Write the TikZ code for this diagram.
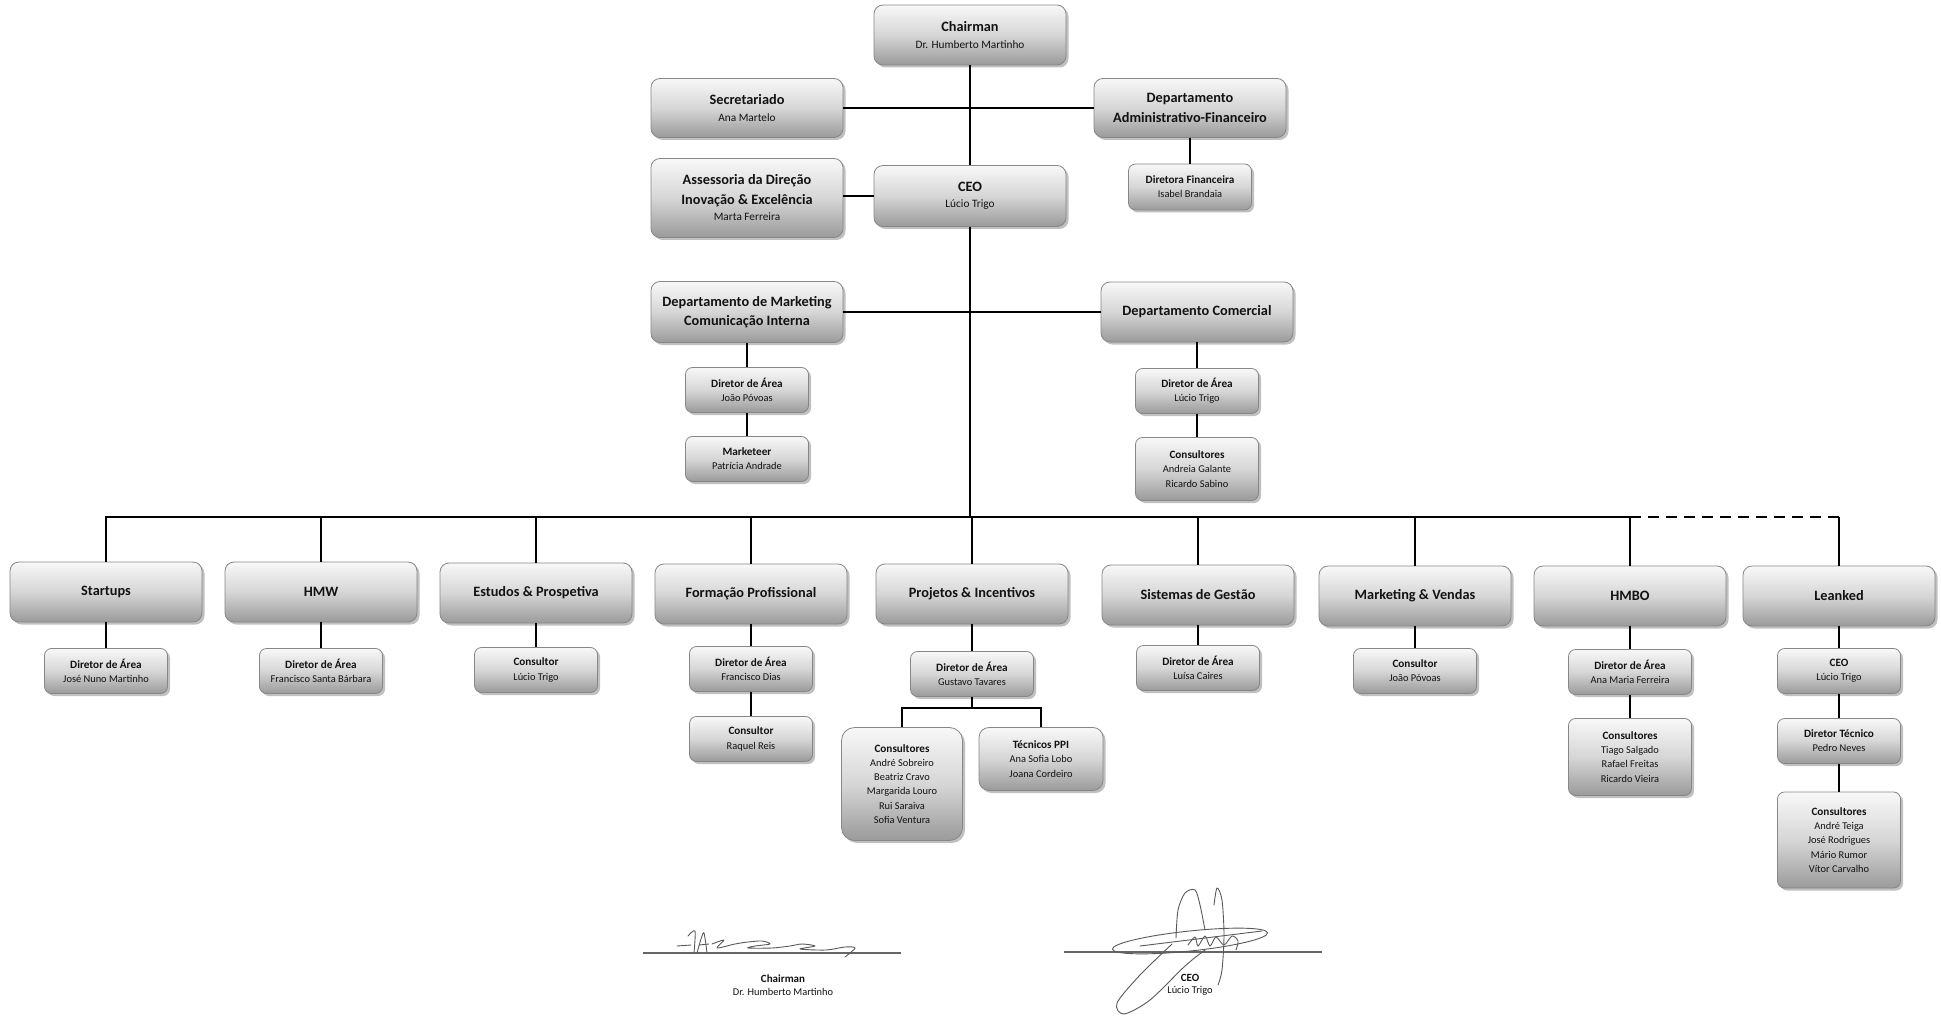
\documentclass[tikz,border=0pt]{standalone}
\usepackage{fontspec}
\setmainfont{Carlito}
\usetikzlibrary{shadows,calc}
\definecolor{boxtop}{RGB}{248,248,248}
\definecolor{boxmid}{RGB}{214,214,214}
\definecolor{boxbot}{RGB}{154,154,154}
\definecolor{boxline}{RGB}{135,135,135}
\definecolor{txt}{RGB}{18,18,18}
\definecolor{sigcol}{RGB}{90,90,90}
\newcommand{\BT}[1]{{\fontsize{14.3}{16}\selectfont\bfseries #1}}
\newcommand{\ST}[1]{{\fontsize{11.2}{14}\selectfont\bfseries #1}}
\tikzset{
  box/.style={draw=boxline, line width=0.8pt, top color=boxtop, bottom color=boxbot, middle color=boxmid,
    drop shadow={shadow xshift=2.5pt, shadow yshift=-2.5pt, opacity=0.35, fill=black!70},
    align=center, inner sep=0pt, text=txt},
  big/.style={box, rounded corners=9pt, minimum width=192pt, minimum height=60pt, font=\fontsize{11.3}{16.5}\selectfont},
  small/.style={box, rounded corners=7pt, minimum width=123pt, minimum height=45pt, font=\fontsize{10.4}{14.2}\selectfont},
  conn/.style={line width=2pt, black},
  sig/.style={line width=0.9pt, sigcol, line cap=round, line join=round},
  sigline/.style={line width=1.8pt, black!60},
  sigtext/.style={align=center, text=txt, font=\fontsize{10.4}{12.5}\selectfont},
}
\begin{document}
\begin{tikzpicture}[x=1pt,y=-1pt]
\fill[white] (0,0) rectangle (1941,1016);
\useasboundingbox (0,0) rectangle (1941,1016);

% top management
\node[big] (chair) at (970,35) {\BT{Chairman}\\Dr. Humberto Martinho};
\node[big, minimum height=59pt] (secr) at (747,108) {\BT{Secretariado}\\Ana Martelo};
\node[big, minimum height=59pt] (dadm) at (1190,108) {\BT{Departamento}\\[3pt]\BT{Administrativo-Financeiro}};
\node[big, minimum height=79pt] (assess) at (747,198) {\BT{Assessoria da Direção}\\[3pt]\BT{Inovação \& Excelência}\\Marta Ferreira};
\node[big, minimum height=61pt] (ceo) at (970,196) {\BT{CEO}\\Lúcio Trigo};
\node[small, minimum height=46pt] (dfin) at (1190,187) {\ST{Diretora Financeira}\\Isabel Brandaia};

\node[big, minimum height=61pt] (dmkt) at (747,312) {\BT{Departamento de Marketing}\\[3pt]\BT{Comunicação Interna}};
\node[big] (dcom) at (1197,312) {\BT{Departamento Comercial}};
\node[small] (mktdir) at (747,390) {\ST{Diretor de Área}\\João Póvoas};
\node[small] (mkteer) at (747,459) {\ST{Marketeer}\\Patrícia Andrade};
\node[small] (comdir) at (1197,391) {\ST{Diretor de Área}\\Lúcio Trigo};
\node[small, minimum height=63pt] (comcons) at (1197,469) {\ST{Consultores}\\Andreia Galante\\Ricardo Sabino};

% business units
\node[big] (startups) at (106,592) {\BT{Startups}};
\node[big] (hmw) at (321,592) {\BT{HMW}};
\node[big] (estudos) at (536,593) {\BT{Estudos \& Prospetiva}};
\node[big] (formacao) at (751,594) {\BT{Formação Profissional}};
\node[big] (projetos) at (972,594) {\BT{Projetos \& Incentivos}};
\node[big] (sistemas) at (1198,595) {\BT{Sistemas de Gestão}};
\node[big] (mv) at (1415,596) {\BT{Marketing \& Vendas}};
\node[big] (hmbo) at (1630,596) {\BT{HMBO}};
\node[big] (leanked) at (1839,596) {\BT{Leanked}};

\node[small] (startsub) at (106,671) {\ST{Diretor de Área}\\José Nuno Martinho};
\node[small] (hmwsub) at (321,671) {\ST{Diretor de Área}\\Francisco Santa Bárbara};
\node[small] (estsub) at (536,670) {\ST{Consultor}\\Lúcio Trigo};
\node[small] (fordir) at (751,669) {\ST{Diretor de Área}\\Francisco Dias};
\node[small] (forcons) at (751,739) {\ST{Consultor}\\Raquel Reis};
\node[small] (prodir) at (972,674) {\ST{Diretor de Área}\\Gustavo Tavares};
\node[small, rounded corners=13pt, minimum width=121pt, minimum height=113pt] (procons) at (902,784) {\ST{Consultores}\\André Sobreiro\\Beatriz Cravo\\Margarida Louro\\Rui Saraiva\\Sofia Ventura};
\node[small, rounded corners=10pt, minimum width=124pt, minimum height=63pt] (protec) at (1041,759) {\ST{Técnicos PPI}\\Ana Sofia Lobo\\Joana Cordeiro};
\node[small] (sisdir) at (1198,668) {\ST{Diretor de Área}\\Luísa Caires};
\node[small] (mvcons) at (1415,671) {\ST{Consultor}\\João Póvoas};
\node[small] (hmbodir) at (1630,672) {\ST{Diretor de Área}\\Ana Maria Ferreira};
\node[small, minimum height=77pt] (hmbocons) at (1630,757) {\ST{Consultores}\\Tiago Salgado\\Rafael Freitas\\Ricardo Vieira};
\node[small] (lkceo) at (1839,671) {\ST{CEO}\\Lúcio Trigo};
\node[small] (lkdt) at (1839,741) {\ST{Diretor Técnico}\\Pedro Neves};
\node[small, minimum height=96pt] (lkcons) at (1839,840) {\ST{Consultores}\\André Teiga\\José Rodrigues\\Mário Rumor\\Vítor Carvalho};

% coordinates
\coordinate (bus) at (970,517);
\coordinate (pbr) at (972,708);

% connectors top
\draw[conn] (chair.south) -- (ceo.north);
\draw[conn] (secr.east) -- (dadm.west);
\draw[conn] (assess.east |- ceo.west) -- (ceo.west);
\draw[conn] (dadm.south) -- (dfin.north);
\draw[conn] (ceo.south) -- (bus);
\draw[conn] (dmkt.east) -- (dcom.west);
\draw[conn] (dmkt.south) -- (mktdir.north);
\draw[conn] (mktdir.south) -- (mkteer.north);
\draw[conn] (dcom.south) -- (comdir.north);
\draw[conn] (comdir.south) -- (comcons.north);

% bus
\draw[conn] (startups.north) -- (startups.north |- bus) -- (hmbo.north |- bus) -- (hmbo.north);
\draw[conn, dash pattern=on 11pt off 7pt] (hmbo.north |- bus) -- (leanked.north |- bus);
\draw[conn] (leanked.north |- bus) -- (leanked.north);
\foreach \n in {hmw,estudos,formacao,projetos,sistemas,mv}
  \draw[conn] (\n.north) -- (\n.north |- bus);

% sub connectors
\draw[conn] (startups.south) -- (startsub.north);
\draw[conn] (hmw.south) -- (hmwsub.north);
\draw[conn] (estudos.south) -- (estsub.north);
\draw[conn] (formacao.south) -- (fordir.north);
\draw[conn] (fordir.south) -- (forcons.north);
\draw[conn] (projetos.south) -- (prodir.north);
\draw[conn] (prodir.south) -- (pbr);
\draw[conn] (procons.north) -- (procons.north |- pbr) -- (protec.north |- pbr) -- (protec.north);
\draw[conn] (sistemas.south) -- (sisdir.north);
\draw[conn] (mv.south) -- (mvcons.north);
\draw[conn] (hmbo.south) -- (hmbodir.north);
\draw[conn] (hmbodir.south) -- (hmbocons.north);
\draw[conn] (leanked.south) -- (lkceo.north);
\draw[conn] (lkceo.south) -- (lkdt.north);
\draw[conn] (lkdt.south) -- (lkcons.north);

% signatures
\coordinate (s1a) at (643,953);
\coordinate (s1b) at (901,953);
\coordinate (s2a) at (1064,952);
\coordinate (s2b) at (1322,952);
\draw[sigline] (s1a) -- (s1b);
\draw[sigline] (s2a) -- (s2b);
\node[sigtext] (sigchair) at (783,985) {\textbf{\fontsize{11}{12.5}\selectfont Chairman}\\Dr. Humberto Martinho};
\node[sigtext] (sigceo) at (1190,985) {\textbf{\fontsize{11}{12.5}\selectfont CEO}\\Lúcio Trigo};

% chairman scribble
\draw[sig] (677,946) -- (691,945);
\draw[sig] plot[smooth] coordinates {(688,936) (695,931) (694,953)};
\draw[sig] plot[smooth] coordinates {(697,953) (701,939) (704,933) (707,953)};
\draw[sig] (699,945) -- (709,944);
\draw[sig] plot[smooth] coordinates {(712,944) (724,940) (717,948) (735,944) (748,942) (762,941) (770,944) (755,946) (748,948) (772,948) (790,946) (802,944) (815,946) (800,949) (826,950) (845,947) (855,948) (845,957)};

% ceo scribble
\draw[sig] (1190,941) ellipse [x radius=78, y radius=10, rotate=6];
\draw[sig] plot[smooth] coordinates {(1176,938) (1178,910) (1185,893) (1195,890) (1200,905) (1205,930)};
\draw[sig] plot[smooth] coordinates {(1214,905) (1217,888) (1222,900) (1224,935) (1222,970) (1218,985)};
\draw[sig] plot[smooth] coordinates {(1172,944) (1140,975) (1117,1003) (1124,1014) (1150,1000) (1185,966) (1205,950)};
\draw[sig] plot[smooth] coordinates {(1188,945) (1195,937) (1198,946) (1205,936) (1210,946) (1216,937) (1224,945) (1232,936) (1238,941) (1236,950)};
\draw[sig] (1140,946) -- (1262,931);
\end{tikzpicture}
\end{document}
